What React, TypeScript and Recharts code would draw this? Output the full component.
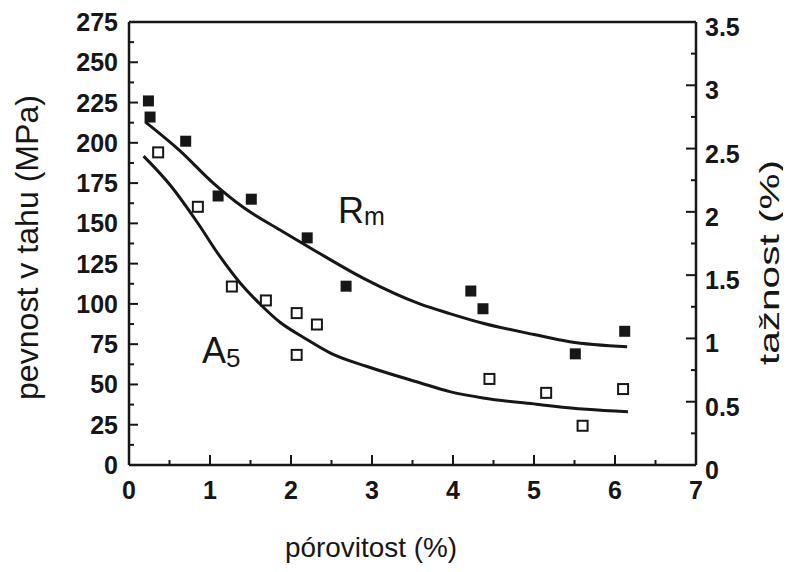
import React from "react";
import {
  ComposedChart,
  XAxis,
  YAxis,
  Scatter,
  Line,
  ReferenceDot,
  Label,
} from "recharts";

// measured points, tensile strength Rm (MPa) vs porosity (%)
const porosityRm = [0.24, 0.26, 0.7, 1.1, 1.51, 2.2, 2.68, 4.22, 4.37, 5.51, 6.12];
const strengthRm = [226, 216, 201, 167, 165, 141, 111, 108, 97, 69, 83];

// measured points, elongation A5 (%) vs porosity (%)
const porosityA5 = [0.36, 0.85, 1.27, 1.69, 2.07, 2.32, 2.07, 4.45, 5.15, 5.6, 6.1];
const elongationA5 = [2.47, 2.04, 1.41, 1.3, 1.2, 1.11, 0.87, 0.68, 0.57, 0.31, 0.6];

// fitted curves
const rmFitX = [0.2, 0.63, 1.04, 1.41, 1.86, 2.28, 2.89, 3.59, 3.96, 4.37, 5.0, 5.44, 6.15];
const rmFitY = [213, 195, 175, 160, 146, 133.5, 116, 100, 94, 88, 81, 76.5, 73.4];
const a5FitX = [0.18, 0.51, 0.84, 1.12, 1.37, 1.62, 1.86, 2.15, 2.5, 2.93, 3.59, 3.96, 4.37, 5.03, 5.65, 6.16];
const a5FitY = [2.44, 2.21, 1.92, 1.65, 1.44, 1.27, 1.13, 1.01, 0.88, 0.78, 0.65, 0.58, 0.53, 0.48, 0.44, 0.42];

const xTicks = [0, 0.5, 1, 1.5, 2, 2.5, 3, 3.5, 4, 4.5, 5, 5.5, 6, 6.5, 7];
const leftTicks = [
  0, 12.5, 25, 37.5, 50, 62.5, 75, 87.5, 100, 112.5, 125, 137.5, 150, 162.5, 175,
  187.5, 200, 212.5, 225, 237.5, 250, 262.5, 275,
];
const rightTicks = [0, 0.25, 0.5, 0.75, 1, 1.25, 1.5, 1.75, 2, 2.25, 2.5, 2.75, 3, 3.25, 3.5];

const INK = "#161616";
const FONT = '"Liberation Sans", Arial, Helvetica, sans-serif';

const zip = (xs: number[], ys: number[]) => xs.map((x, i) => ({ x, y: ys[i] }));

const rmPoints = zip(porosityRm, strengthRm);
const a5Points = zip(porosityA5, elongationA5);
const rmCurve = zip(rmFitX, rmFitY);
const a5Curve = zip(a5FitX, a5FitY);

const isMajor = (v: number, step: number) => Math.abs(v / step - Math.round(v / step)) < 1e-6;

const tickText = {
  fontFamily: FONT,
  fontSize: 25,
  fontWeight: 700,
  fill: INK,
};

function LeftTick(props: any) {
  const { x, y, payload } = props;
  const major = isMajor(payload.value, 25);
  return (
    <g>
      <line x1={x} x2={x + (major ? 9 : 5)} y1={y} y2={y} stroke={INK} strokeWidth={2} />
      {major && (
        <text x={x - 11} y={y} dy="0.36em" textAnchor="end" {...tickText}>
          {payload.value}
        </text>
      )}
    </g>
  );
}

function RightTick(props: any) {
  const { x, y, payload } = props;
  const major = isMajor(payload.value, 0.5);
  return (
    <g>
      <line x1={x} x2={x - (major ? 10 : 5)} y1={y} y2={y} stroke={INK} strokeWidth={2} />
      {major && (
        <text x={x + 9} y={y + 5} dy="0.36em" textAnchor="start" {...tickText}>
          {payload.value}
        </text>
      )}
    </g>
  );
}

function BottomTick(props: any) {
  const { x, y, payload } = props;
  const major = isMajor(payload.value, 1);
  return (
    <g>
      <line x1={x} x2={x} y1={y} y2={y - (major ? 10 : 5)} stroke={INK} strokeWidth={2} />
      {major && (
        <text x={x} y={y + 34} textAnchor="middle" {...tickText}>
          {payload.value}
        </text>
      )}
    </g>
  );
}

function TopTick(props: any) {
  const { x, y, payload } = props;
  const major = isMajor(payload.value, 1);
  return <line x1={x} x2={x} y1={y} y2={y + (major ? 11 : 5)} stroke={INK} strokeWidth={2} />;
}

const FilledSquare = (p: any) => (
  <rect x={p.cx - 5.5} y={p.cy - 5.5} width={11} height={11} fill={INK} />
);
const OpenSquare = (p: any) => (
  <rect x={p.cx - 5} y={p.cy - 5} width={10} height={10} fill="#fff" stroke={INK} strokeWidth={2} />
);

const titleStyle = { fontFamily: FONT, fill: INK };

export default function App() {
  const axisLine = { stroke: INK, strokeWidth: 2.5 };
  return (
    <div style={{ width: 783, height: 564, background: "#fff" }}>
      <ComposedChart width={783} height={564} margin={{ top: 4, right: 15, bottom: 47, left: 41 }}>
        <XAxis
          xAxisId="b"
          dataKey="x"
          type="number"
          domain={[0, 7]}
          ticks={xTicks}
          interval={0}
          height={60}
          tickSize={0}
          tickMargin={0}
          tickLine={false}
          axisLine={axisLine}
          tick={BottomTick}
        >
          <Label
            content={() => (
              <text x={277} y={549} fontSize={28} textLength={172} lengthAdjust="spacingAndGlyphs" {...titleStyle}>
                pórovitost (%)
              </text>
            )}
          />
        </XAxis>
        <XAxis
          xAxisId="t"
          orientation="top"
          dataKey="x"
          type="number"
          domain={[0, 7]}
          ticks={xTicks}
          interval={0}
          height={10}
          tickSize={0}
          tickMargin={0}
          tickLine={false}
          axisLine={axisLine}
          tick={TopTick}
        />
        <YAxis
          yAxisId="l"
          dataKey="y"
          type="number"
          domain={[0, 275]}
          ticks={leftTicks}
          interval={0}
          width={80}
          tickSize={0}
          tickMargin={0}
          tickLine={false}
          axisLine={axisLine}
          tick={LeftTick}
        >
          <Label
            content={() => (
              <text
                x={30}
                y={239.5}
                transform="rotate(-90, 30, 239.5)"
                textAnchor="middle"
                fontSize={31}
                textLength={305}
                lengthAdjust="spacingAndGlyphs"
                {...titleStyle}
              >
                pevnost v tahu (MPa)
              </text>
            )}
          />
        </YAxis>
        <YAxis
          yAxisId="r"
          orientation="right"
          dataKey="y"
          type="number"
          domain={[0, 3.5]}
          ticks={rightTicks}
          interval={0}
          width={80}
          tickSize={0}
          tickMargin={0}
          tickLine={false}
          axisLine={axisLine}
          tick={RightTick}
        >
          <Label
            content={() => (
              <text
                x={771}
                y={254.5}
                transform="rotate(-90, 771, 254.5)"
                textAnchor="middle"
                fontSize={28}
                textLength={205}
                lengthAdjust="spacingAndGlyphs"
                {...titleStyle}
              >
                tažnost (%)
              </text>
            )}
          />
        </YAxis>

        <Line
          xAxisId="b"
          yAxisId="l"
          data={rmCurve}
          dataKey="y"
          type="monotone"
          stroke={INK}
          strokeWidth={3}
          dot={false}
          activeDot={false}
          isAnimationActive={false}
        />
        <Line
          xAxisId="b"
          yAxisId="r"
          data={a5Curve}
          dataKey="y"
          type="monotone"
          stroke={INK}
          strokeWidth={3}
          dot={false}
          activeDot={false}
          isAnimationActive={false}
        />
        <Scatter
          xAxisId="b"
          yAxisId="l"
          data={rmPoints}
          shape={FilledSquare}
          isAnimationActive={false}
        />
        <Scatter
          xAxisId="b"
          yAxisId="r"
          data={a5Points}
          shape={OpenSquare}
          isAnimationActive={false}
        />

        <ReferenceDot
          xAxisId="b"
          yAxisId="l"
          x={2.58}
          y={150}
          r={0}
          fill="none"
          stroke="none"
          ifOverflow="visible"
          label={(p: any) => (
            <text x={p.viewBox.x} y={p.viewBox.y} fontSize={36} {...titleStyle}>
              R<tspan fontSize={25} dy={2}>m</tspan>
            </text>
          )}
        />
        <ReferenceDot
          xAxisId="b"
          yAxisId="l"
          x={0.9}
          y={63.3}
          r={0}
          fill="none"
          stroke="none"
          ifOverflow="visible"
          label={(p: any) => (
            <text x={p.viewBox.x} y={p.viewBox.y} fontSize={36} {...titleStyle}>
              A<tspan fontSize={26} dy={4}>5</tspan>
            </text>
          )}
        />
      </ComposedChart>
    </div>
  );
}
